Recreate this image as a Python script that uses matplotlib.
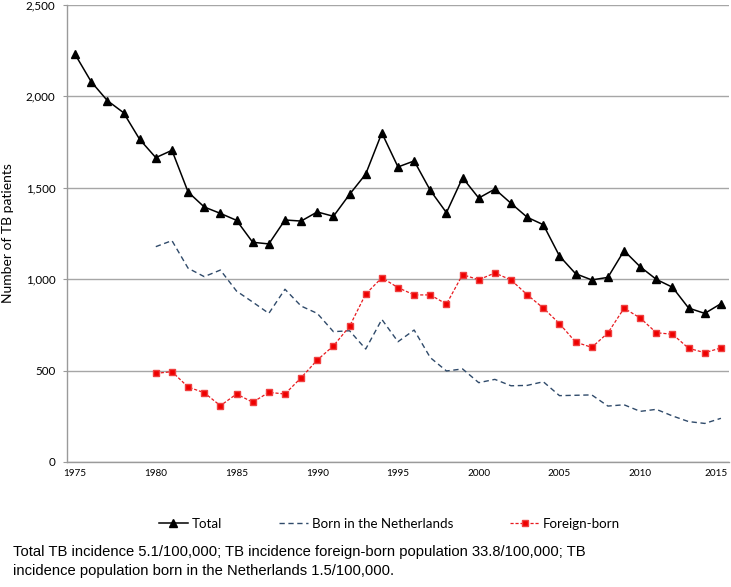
import matplotlib
matplotlib.use("Agg")
import matplotlib.pyplot as plt
import matplotlib.transforms as mtransforms
from matplotlib.ticker import FuncFormatter

years = list(range(1975, 2016))
total = [2230, 2080, 1977, 1911, 1765, 1665, 1705, 1477, 1395, 1360,
         1322, 1202, 1193, 1324, 1318, 1368, 1344, 1464, 1575, 1800,
         1614, 1647, 1486, 1364, 1555, 1444, 1493, 1415, 1339, 1298,
         1127, 1030, 996, 1010, 1156, 1068, 999, 956, 842, 813, 866]
years_sub = list(range(1980, 2016))
born_nl = [1178, 1211, 1060, 1014, 1050, 935, 875, 813, 945, 853,
           813, 713, 718, 618, 780, 658, 722, 571, 498, 509,
           434, 452, 417, 419, 439, 363, 365, 367, 306, 313,
           277, 288, 252, 221, 211, 239]
foreign = [485, 494, 410, 379, 308, 372, 327, 381, 372, 461,
           558, 635, 742, 919, 1008, 954, 914, 914, 864, 1025,
           997, 1034, 996, 915, 842, 757, 656, 627, 706, 841,
           788, 707, 699, 622, 598, 624]
xtick_years = [1975, 1980, 1985, 1990, 1995, 2000, 2005, 2010, 2015]
yticks = [0, 500, 1000, 1500, 2000, 2500]

fig = plt.figure(figsize=(7.31, 5.87), dpi=100)
W, H = 731, 587
ax = fig.add_axes([67 / W, 1 - 462 / H, (729 - 67) / W, (462 - 5) / H])

ax.plot(years, total, color="black", lw=1.1, marker="^", ms=5.5, label="Total")
ax.plot(years_sub, born_nl, color="#2f4a6a", lw=1.0, ls=(0, (3.8, 2.6)),
        label="Born in the Netherlands")
ax.plot(years_sub, foreign, color="#e8191e", lw=0.9, ls=(0, (2.5, 1.5)),
        marker="s", ms=5, mfc="#ee0000", mec="#f04040",
        label="Foreign-born")

ax.set_xlim(1974.5, 2015.5)
ax.set_ylim(0, 2500)
ax.set_yticks(yticks)
ax.yaxis.set_major_formatter(FuncFormatter(lambda v, p: f"{int(v):,}"))
ax.set_xticks(xtick_years)
ax.grid(axis="y", color="#a6a6a6", lw=1.0)
ax.set_axisbelow(True)
for s in ["top", "right"]:
    ax.spines[s].set_visible(False)
for s in ["left", "bottom"]:
    ax.spines[s].set_color("#9a9a9a")
    ax.spines[s].set_linewidth(1.0)
ax.tick_params(axis="y", length=3, color="#9a9a9a", labelsize=8.4, pad=5.5,
               labelfontfamily="Lato")
ax.tick_params(axis="x", length=0, labelsize=7.2, pad=5,
               labelfontfamily="Lato")
ax.set_ylabel("Number of TB patients", fontsize=10, family="Lato")
ax.yaxis.set_label_coords(-53 / (729 - 67), 0.5)

fig.canvas.draw()
last = ax.get_xticklabels()[-1]
last.set_transform(last.get_transform() +
                   mtransforms.ScaledTranslation(-5 / 100, 0, fig.dpi_scale_trans))

fig.legend(loc="center left", bbox_to_anchor=(152 / W, 1 - 524 / H), ncol=3,
           frameon=False, prop={"family": "Lato", "size": 9.6},
           borderpad=0, handlelength=2.2, handletextpad=0.25,
           columnspacing=4.3)

fig.text(13 / W, 1 - 552 / H,
         "Total TB incidence 5.1/100,000; TB incidence foreign-born population 33.8/100,000; TB",
         fontsize=10.65, family="Liberation Sans", va="center")
fig.text(13 / W, 1 - 571 / H,
         "incidence population born in the Netherlands 1.5/100,000.",
         fontsize=10.65, family="Liberation Sans", va="center")

fig.savefig("out.png", dpi=100)
